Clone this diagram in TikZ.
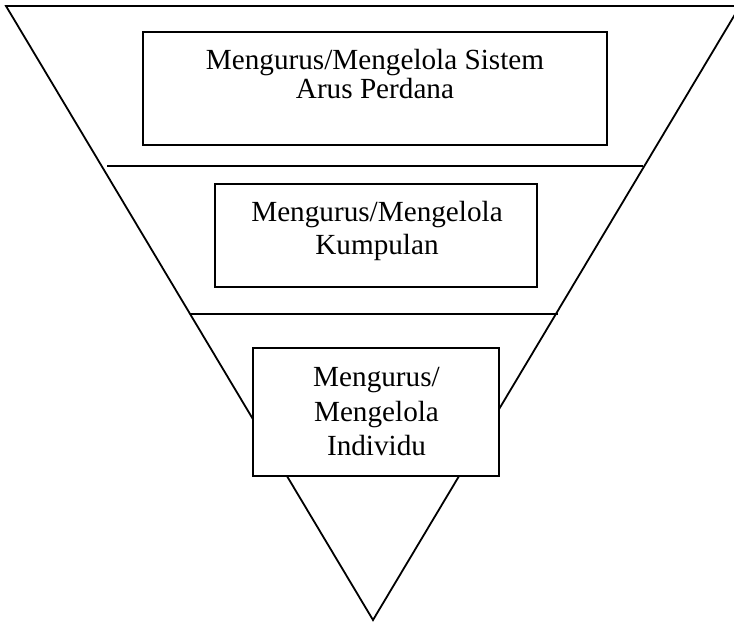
\documentclass[tikz,border=0pt]{standalone}
\usepackage{fontspec}
\setmainfont{Liberation Serif}
\begin{document}
\begin{tikzpicture}[x=1pt,y=-1pt,
  edge/.style={line width=1.8pt, line join=miter},
  box/.style={draw, line width=1.8pt, fill=white, rectangle, inner sep=0pt},
  lbl/.style={anchor=base, inner sep=0pt, font=\fontsize{29.2}{33}\selectfont}]
\useasboundingbox (0,0) rectangle (734,622);
\clip (0,0) rectangle (734,622);
% triangle
\coordinate (tl) at (6,6);
\coordinate (tr) at (740,6);
\coordinate (ap) at (373,620);
\draw[edge] (tl) -- (tr) -- (ap) -- cycle;
% dividing lines
\coordinate (l1a) at (107,166);
\coordinate (l1b) at (643,166);
\coordinate (l2a) at (190,314);
\coordinate (l2b) at (558,314);
\draw[edge] (l1a) -- (l1b);
\draw[edge] (l2a) -- (l2b);
% boxes
\node[box, minimum width=464pt, minimum height=113pt] (b1) at (375,88.5) {};
\node[box, minimum width=322pt, minimum height=103pt] (b2) at (376,235.5) {};
\node[box, minimum width=246pt, minimum height=128pt] (b3) at (376,412) {};
% texts
\node[lbl] (t11) at (375,69) {Mengurus/Mengelola Sistem};
\node[lbl] (t12) at (375,98) {Arus Perdana};
\node[lbl] (t21) at (377,221) {Mengurus/Mengelola};
\node[lbl] (t22) at (377,254) {Kumpulan};
\node[lbl] (t31) at (376.5,386) {Mengurus/};
\node[lbl] (t32) at (376.5,421) {Mengelola};
\node[lbl] (t33) at (376.5,455) {Individu};
\end{tikzpicture}
\end{document}
